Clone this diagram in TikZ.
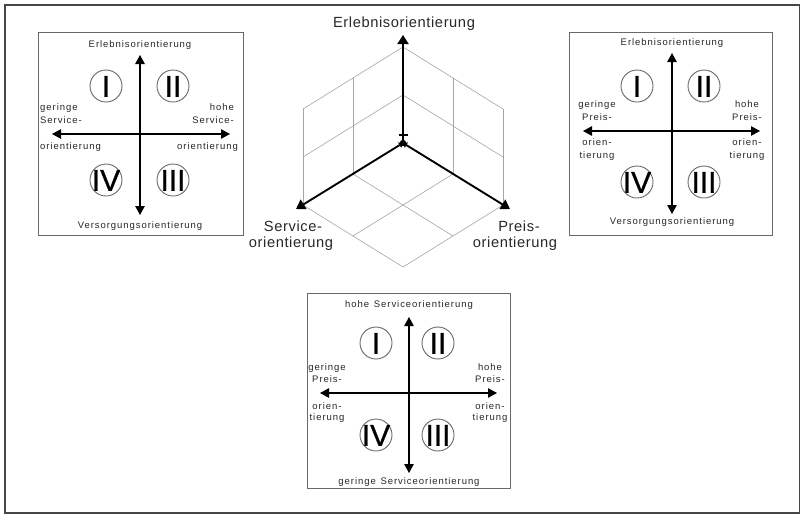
\documentclass[tikz,border=0pt]{standalone}
\usepackage{fontspec}
\setmainfont{Liberation Sans}
\newfontfamily\boxfont[LetterSpace=10]{Liberation Sans}
\newfontfamily\midfont[LetterSpace=4]{Liberation Sans}
\newfontfamily\numfont[FakeBold=0.9]{Liberation Sans}
\usetikzlibrary{arrows.meta}
\definecolor{framecol}{RGB}{70,70,70}
\definecolor{boxline}{RGB}{105,105,105}
\definecolor{gridline}{RGB}{165,165,165}
\definecolor{txt}{RGB}{40,40,40}
\tikzset{
  boxlbl/.style={font=\boxfont\fontsize{9.5}{11}\selectfont, text=txt, inner sep=0pt, text height=5.7pt, text depth=0pt},
  midlbl/.style={font=\midfont\fontsize{14.7}{17}\selectfont, text=txt, inner sep=0pt, text height=8.8pt, text depth=0pt},
  quadbox/.style={draw=boxline, line width=0.9pt},
  axisarrow/.style={line width=1.1pt, black, {Triangle[length=9pt,width=9.5pt]}-{Triangle[length=9pt,width=9.5pt]}},
  numcircle/.style={circle, draw=boxline, line width=0.9pt, minimum size=32pt, inner sep=0pt},
  numeral/.style={inner sep=0pt, font=\numfont\fontsize{30}{30}\selectfont, text=black, text height=21.5pt, text depth=0pt},
  gridl/.style={draw=gridline, line width=0.6pt},
  mainarrow/.style={line width=1.9pt, black, {Triangle[length=4pt,width=6pt]}-{Triangle[length=9pt,width=11pt]}},
}
\begin{document}
\begin{tikzpicture}[x=1pt,y=-1pt]
\useasboundingbox (0,0) rectangle (801,515);
\fill[white] (0,0) rectangle (801,515);
\draw[draw=framecol, line width=1.8pt] (5,5) rectangle (799.5,513);

% ---------- left box ----------
\draw[quadbox] (38,32) rectangle (243,235);
\coordinate (Lt) at (140,55); \coordinate (Lb) at (140,215);
\coordinate (Ll) at (52,134); \coordinate (Lr) at (230,134);
\draw[axisarrow] (Lb) -- (Lt);
\draw[axisarrow] (Ll) -- (Lr);
\node[numcircle] (L1) at (106,86) {}; \node[numeral] at (L1) {I};
\node[numcircle] (L2) at (173,86) {}; \node[numeral] at (L2) {II};
\node[numcircle] (L4) at (106,180) {}; \node[numeral] at (L4) {IV};
\node[numcircle] (L3) at (173,180) {}; \node[numeral] at (L3) {III};
\node[boxlbl] (Ltop) at (140,45) {Erlebnisorientierung};
\node[boxlbl] (Lbot) at (140,226) {Versorgungsorientierung};
\node[boxlbl, anchor=west] (Lw1) at (40,108) {geringe};
\node[boxlbl, anchor=west] (Lw2) at (40,121) {Service-};
\node[boxlbl, anchor=west] (Lw3) at (40,147) {orientierung};
\node[boxlbl, anchor=east] (Le1) at (234,108) {hohe};
\node[boxlbl, anchor=east] (Le2) at (234,121) {Service-};
\node[boxlbl, anchor=east] (Le3) at (238,147) {orientierung};

% ---------- right box ----------
\draw[quadbox] (569,32) rectangle (772,235);
\coordinate (Rt) at (672,53); \coordinate (Rb) at (672,214);
\coordinate (Rl) at (583,131); \coordinate (Rr) at (760,131);
\draw[axisarrow] (Rb) -- (Rt);
\draw[axisarrow] (Rl) -- (Rr);
\node[numcircle] (R1) at (637,86) {}; \node[numeral] at (R1) {I};
\node[numcircle] (R2) at (704,86) {}; \node[numeral] at (R2) {II};
\node[numcircle] (R4) at (637,182) {}; \node[numeral] at (R4) {IV};
\node[numcircle] (R3) at (704,182) {}; \node[numeral] at (R3) {III};
\node[boxlbl] (Rtop) at (672,43) {Erlebnisorientierung};
\node[boxlbl] (Rbot) at (672,222) {Versorgungsorientierung};
\node[boxlbl] (Rw1) at (597,105) {geringe};
\node[boxlbl] (Rw2) at (597,118) {Preis-};
\node[boxlbl] (Rw3) at (597,143) {orien-};
\node[boxlbl] (Rw4) at (597,156) {tierung};
\node[boxlbl] (Re1) at (747,105) {hohe};
\node[boxlbl] (Re2) at (747,118) {Preis-};
\node[boxlbl] (Re3) at (747,143) {orien-};
\node[boxlbl] (Re4) at (747,156) {tierung};

% ---------- bottom box ----------
\draw[quadbox] (307,293) rectangle (510,488);
\coordinate (Bt) at (409,317); \coordinate (Bb) at (409,473);
\coordinate (Bl) at (320,393); \coordinate (Br) at (497,393);
\draw[axisarrow] (Bb) -- (Bt);
\draw[axisarrow] (Bl) -- (Br);
\node[numcircle] (B1) at (376,343) {}; \node[numeral] at (B1) {I};
\node[numcircle] (B2) at (438,343) {}; \node[numeral] at (B2) {II};
\node[numcircle] (B4) at (376,435) {}; \node[numeral] at (B4) {IV};
\node[numcircle] (B3) at (438,435) {}; \node[numeral] at (B3) {III};
\node[boxlbl] (Btop) at (409,305) {hohe\hspace{0.5em}Serviceorientierung};
\node[boxlbl] (Bbot) at (409,482) {geringe\hspace{0.5em}Serviceorientierung};
\node[boxlbl] (Bw1) at (327,368) {geringe};
\node[boxlbl] (Bw2) at (327,380) {Preis-};
\node[boxlbl] (Bw3) at (327,407) {orien-};
\node[boxlbl] (Bw4) at (327,418) {tierung};
\node[boxlbl] (Be1) at (490,368) {hohe};
\node[boxlbl] (Be2) at (490,380) {Preis-};
\node[boxlbl] (Be3) at (490,407) {orien-};
\node[boxlbl] (Be4) at (490,418) {tierung};

% ---------- middle 3D diagram ----------
% left wall
\draw[gridl] (403,143) -- (403,47);
\draw[gridl] (353,174) -- (353,78);
\draw[gridl] (303,205) -- (303,109);
\draw[gridl] (403,95) -- (303,157);
\draw[gridl] (403,47) -- (303,109);
% right wall
\draw[gridl] (453,174) -- (453,78);
\draw[gridl] (503,205) -- (503,109);
\draw[gridl] (403,95) -- (503,157);
\draw[gridl] (403,47) -- (503,109);
% floor
\draw[gridl] (353,174) -- (453,236);
\draw[gridl] (303,205) -- (403,267);
\draw[gridl] (453,174) -- (353,236);
\draw[gridl] (503,205) -- (403,267);

\coordinate (O) at (403,143);
\coordinate (Vtip) at (403,35);
\coordinate (Stip) at (296,209);
\coordinate (Ptip) at (510,209);
\draw[line width=1.9pt, black, -{Triangle[length=9pt,width=11pt]}] (O) -- (Vtip);
\draw[mainarrow] (O) -- (Stip);
\draw[mainarrow] (O) -- (Ptip);
\fill[black] (O) circle (3.2pt);
\draw[line width=1.3pt, black] (398.5,135) -- (407.5,135);

\node[midlbl] (Mtop) at (404,23) {Erlebnisorientierung};
\node[midlbl] (Ms1) at (293,227) {Service-};
\node[midlbl] (Ms2) at (291,243) {orientierung};
\node[midlbl] (Mp1) at (519,227) {Preis-};
\node[midlbl] (Mp2) at (515,243) {orientierung};
\end{tikzpicture}
\end{document}
